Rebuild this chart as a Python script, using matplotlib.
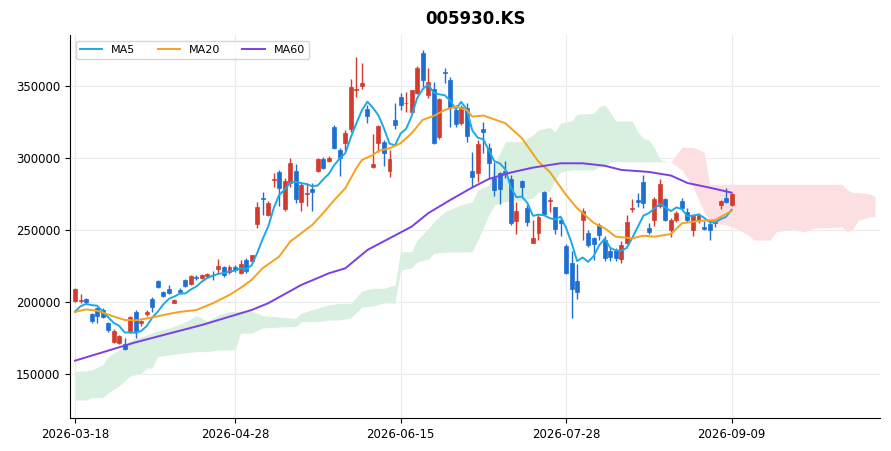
import numpy as np
import pandas as pd
import matplotlib
matplotlib.use("Agg")
import matplotlib.pyplot as plt
from matplotlib.ticker import FuncFormatter

# OHLC (KRW), index = trading day
opens = [200900, 200500, 202000, 191500, 195600, 194500, 185600, 172400, 171700, 170800,
         179400, 193300, 185200, 191500, 202100, 214600, 206900, 209000, 199500, 208300,
         215300, 212500, 217600, 216500, 218000, 219000, 222700, 224100, 220600, 224500,
         220400, 229200, 228700, 254200, 272500, 260400, 284700, 290000, 264500, 282400,
         291200, 269700, 274900, 278300, 291200, 299300, 298100, 321300, 305500, 310200,
         319900, 347500, 350200, 334000, 293400, 310600, 310900, 291200, 326400, 342500,
         338000, 332100, 345300, 372600, 343500, 347700, 314300, 359800, 354200, 333000,
         324100, 334500, 290700, 289400, 319900, 306700, 285900, 289400, 291200, 285200,
         256000, 284000, 265000, 241200, 247700, 276200, 270000, 265700, 257000, 239100,
         227300, 214600, 257000, 248100, 244200, 253500, 243000, 235400, 236100, 229900,
         240800, 264500, 270500, 283500, 251200, 256900, 266600, 271300, 250000, 256900,
         270400, 262700, 250000, 256900, 251800, 253900, 254600, 267600, 272000, 267500]
highs = [209500, 205500, 203000, 192100, 196700, 195500, 186300, 181000, 177000, 174800,
         190200, 194400, 187500, 194400, 203500, 215300, 207600, 211500, 202000, 209500,
         216000, 218500, 218500, 219400, 220000, 221700, 229600, 225000, 225500, 226000,
         228800, 230300, 232600, 269700, 276500, 270000, 289400, 291700, 285900, 299800,
         296000, 283500, 282400, 282400, 299800, 300500, 301500, 322900, 306700, 319400,
         354600, 370300, 365700, 336800, 316400, 322900, 312500, 305500, 338400, 344900,
         346000, 347500, 363900, 375000, 362600, 353000, 341500, 362300, 356500, 336800,
         336800, 338000, 304400, 312500, 324800, 310200, 297500, 290500, 297900, 288200,
         269700, 284700, 267400, 256900, 260400, 276800, 273100, 266200, 259300, 240100,
         235400, 226200, 265000, 250000, 245300, 254600, 245800, 237300, 237800, 242600,
         260400, 271600, 275500, 288200, 254600, 273100, 285200, 272000, 258100, 263500,
         272000, 265500, 260400, 262000, 256200, 255800, 256500, 271000, 279000, 275500]
lows = [200000, 199500, 198400, 185200, 185200, 188500, 179400, 171500, 171000, 166700,
        178700, 174800, 183500, 190500, 193300, 209500, 203700, 205500, 199000, 206000,
        210500, 212000, 215500, 215800, 217000, 215300, 219900, 217500, 219500, 221000,
        219400, 220400, 228000, 251200, 260400, 259500, 280100, 266400, 263000, 280100,
        268500, 263000, 266400, 263400, 290500, 292000, 297500, 306000, 287500, 305100,
        318300, 342100, 347700, 324500, 292900, 304400, 294400, 287000, 319900, 333300,
        332100, 331500, 344400, 349500, 341500, 309700, 313500, 351800, 321800, 321800,
        323000, 311400, 280100, 283500, 303700, 285900, 273400, 267800, 285900, 253500,
        247200, 273100, 252800, 240800, 243000, 260500, 262700, 247000, 245900, 219400,
        189100, 201900, 243000, 238400, 229200, 243000, 228700, 228700, 228700, 227300,
        240300, 262700, 266200, 265200, 247200, 252800, 265000, 256000, 245300, 255500,
        264000, 255500, 245800, 254500, 250000, 243000, 252000, 264500, 268500, 266500]
closes = [208800, 201200, 199800, 186800, 190500, 189500, 180600, 180100, 176400, 167400,
          189400, 179400, 186800, 193300, 196700, 210200, 204400, 206000, 201400, 206700,
          211100, 218000, 216500, 218500, 219400, 218500, 225000, 218700, 224500, 222200,
          226400, 221500, 232600, 266200, 271500, 269000, 285300, 279400, 284200, 296300,
          271500, 281200, 276000, 276600, 299100, 293300, 299800, 306700, 299800, 317100,
          349100, 348000, 351800, 329400, 296000, 322200, 303200, 299300, 322900, 336900,
          338500, 346900, 362300, 354200, 353000, 310600, 340900, 359200, 335600, 323500,
          335500, 315000, 286500, 309700, 318300, 296700, 277800, 278500, 288900, 255100,
          263400, 280100, 255800, 244600, 259300, 261100, 270600, 250500, 254600, 220400,
          209000, 207200, 263000, 239600, 240300, 246500, 230300, 231500, 230300, 239600,
          255800, 265500, 269500, 269000, 248800, 271300, 281700, 256900, 256900, 261600,
          265000, 256900, 259700, 260400, 250500, 250000, 255800, 270400, 269200, 275000]

ma5_head = [193300, 197000, 198600, 197800]

# MA20 / MA60 at these bars
ma20_idx = [0, 2, 4, 7, 9, 11, 14, 17, 19, 22, 25, 28, 30, 32, 34, 37, 39, 41, 43, 45,
            47, 49, 51, 52, 54, 55, 57, 59, 61, 63, 65, 67, 69, 71, 72, 74, 78, 81, 84,
            86, 89, 91, 92, 94, 96, 98, 101, 103, 105, 108, 110, 113, 116, 119]
ma20_val = [193100, 194800, 193900, 189900, 187500, 187200, 189200, 191700, 193100, 194400,
            199100, 204900, 209700, 215300, 223400, 231500, 241900, 247700, 253500, 261800,
            270800, 279000, 293000, 298600, 302100, 304900, 306700, 310200, 317100, 326400,
            329200, 333300, 335600, 333300, 328700, 329500, 324100, 313700, 297400, 290500,
            274300, 265100, 261800, 254900, 251200, 245300, 244200, 246000, 245300, 247200,
            254600, 256200, 256900, 263200]
ma60_idx = [0, 11, 23, 32, 35, 41, 46, 49, 53, 57, 61, 64, 68, 72, 75, 79, 83, 88, 92,
            96, 99, 104, 108, 111, 115, 119]
ma60_val = [159200, 172000, 184000, 194400, 199100, 211800, 219900, 223400, 236100, 244200,
            252300, 261600, 270800, 279500, 285400, 289900, 293300, 296300, 296300, 294600,
            291700, 290300, 287800, 282600, 279400, 275900]

# Ichimoku cloud (leading spans, shifted 26 bars ahead)
cloud_idx = [0, 2, 3, 5, 6, 8, 10, 12, 13, 14, 15, 17, 20, 22, 24, 26, 28, 29, 30, 32,
             34, 38, 40, 41, 44, 46, 48, 50, 52, 54, 56, 58, 59, 61, 62, 64, 65, 67, 69,
             70, 72, 73, 75, 76, 78, 81, 83, 84, 86, 87, 88, 90, 91, 94, 95, 96, 97, 98,
             101, 102, 103, 104, 105, 106, 107, 108, 110, 112, 114, 115, 116, 118, 120,
             122, 123, 126, 127, 130, 132, 134, 139, 140, 141, 142, 144, 145]
span_a = [151700, 152100, 152800, 156200, 162000, 166700, 173600, 175700, 177100, 178500,
          179900, 181700, 186100, 190500, 186800, 191000, 193300, 193400, 193700, 193700,
          190500, 189200, 188700, 192200, 195800, 197900, 199100, 199100, 207600, 209500,
          209500, 211800, 234900, 234900, 243000, 250700, 255500, 262500, 266000, 267400,
          269600, 277800, 281200, 295100, 311300, 311300, 316000, 319400, 321300, 318300,
          324100, 325700, 330300, 331000, 335600, 336800, 331900, 325700, 325700, 318000,
          313700, 312500, 306900, 299100, 297600, 297300, 291700, 279900, 262500, 256900,
          254600, 253500, 250700, 246500, 243000, 243000, 248600, 250700, 248600, 251200,
          252100, 248800, 250700, 256900, 259000, 259200]
span_b = [131900, 131900, 133500, 133500, 136800, 141700, 148600, 150500, 154000, 154000,
          162000, 163200, 164600, 165500, 165500, 166700, 166700, 166700, 178300, 178300,
          181900, 182800, 182800, 186300, 186300, 187500, 187500, 188900, 196500, 197200,
          199300, 199300, 222200, 223600, 227800, 229600, 233800, 234400, 234700, 234700,
          234900, 243000, 260400, 267400, 269600, 270800, 272200, 276400, 276600, 284700,
          290300, 291700, 291700, 291700, 293900, 293900, 297400, 297400, 297400, 297400,
          297400, 297400, 297400, 297400, 297200, 297400, 307400, 307400, 304200, 281700,
          281700, 281700, 281700, 281700, 281700, 281700, 281700, 281700, 281700, 281700,
          281700, 277800, 275900, 275900, 275000, 273100]

tick_pos = [0, 29, 59, 89, 119]
tick_labels = ["2026-03-18", "2026-04-28", "2026-06-15", "2026-07-28", "2026-09-09"]

up_color = "#d23c2f"
down_color = "#1f6fd2"

df = pd.DataFrame({"open": opens, "high": highs, "low": lows, "close": closes})
ma5 = df["close"].rolling(5).mean()
ma5.iloc[:4] = ma5_head

fig = plt.figure(figsize=(8.91, 4.51), dpi=100)
ax = fig.add_axes([0.0786, 0.0732, 0.9091, 0.8492])

# cloud
ca = np.array(span_a)
cb = np.array(span_b)
ax.fill_between(cloud_idx, ca, cb, where=ca >= cb, interpolate=True,
                color="#d9efdf", linewidth=0, zorder=1)
ax.fill_between(cloud_idx, ca, cb, where=ca < cb, interpolate=True,
                color="#fcdfe0", linewidth=0, zorder=1)

# candles
x = np.arange(len(df))
colors = np.where(df["close"] >= df["open"], up_color, down_color)
ax.vlines(x, df["low"], df["high"], colors=colors, linewidth=1.0, zorder=3)
body_low = np.minimum(df["open"], df["close"])
body_h = np.maximum((df["close"] - df["open"]).abs(), 500)
ax.bar(x, body_h, bottom=body_low, width=0.72, color=colors,
       edgecolor=colors, linewidth=0.5, zorder=4)

# moving averages
ax.plot(x, ma5, color="#1ea8e6", linewidth=1.4, label="MA5", zorder=5)
ax.plot(ma20_idx, ma20_val, color="#f5a21d", linewidth=1.4, label="MA20", zorder=5)
ax.plot(ma60_idx, ma60_val, color="#7b3fe4", linewidth=1.4, label="MA60", zorder=5)

ax.set_xlim(-0.9, 145.9)
ax.set_ylim(119400, 385400)
ax.set_xticks(tick_pos)
ax.set_xticklabels(tick_labels, fontsize=8.5)
ax.set_yticks([150000, 200000, 250000, 300000, 350000])
ax.yaxis.set_major_formatter(FuncFormatter(lambda v, p: f"{v:.0f}"))
ax.tick_params(axis="y", labelsize=8.5)
ax.grid(True, color="#ebebeb", linewidth=0.8, zorder=0)
ax.set_axisbelow(True)
ax.spines["top"].set_visible(False)
ax.spines["right"].set_visible(False)

ax.set_title("005930.KS", fontsize=12, fontweight="bold", pad=8)
ax.legend(loc="upper left", ncol=3, fontsize=8)

fig.savefig("out.png", dpi=100)
